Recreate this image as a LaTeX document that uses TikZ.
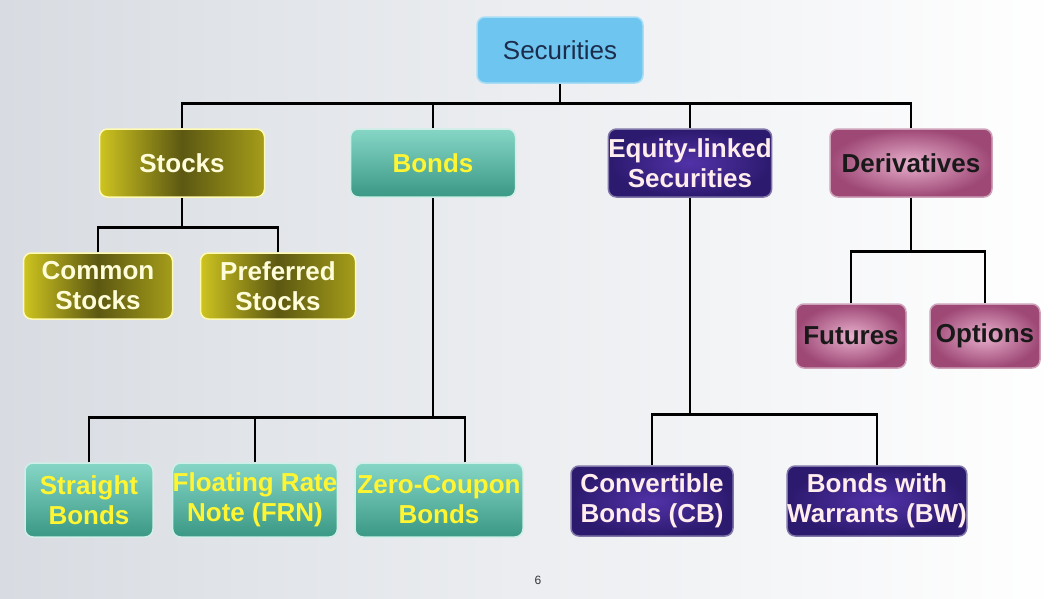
\documentclass[tikz,border=0pt]{standalone}
\usepackage{fontspec}
\setmainfont{Liberation Sans}
\definecolor{skyblue}{HTML}{6EC6F0}
\definecolor{olivedark}{HTML}{5C5812}
\definecolor{oliveyel}{HTML}{CEC420}
\definecolor{tealtop}{HTML}{86D6C6}
\definecolor{tealbot}{HTML}{3A9884}
\definecolor{purpin}{HTML}{5232A8}
\definecolor{purpout}{HTML}{2C1A6E}
\definecolor{pinkin}{HTML}{E8B0CC}
\definecolor{pinkout}{HTML}{9E4876}
\definecolor{backleft}{HTML}{D8DCE2}
\definecolor{navytext}{HTML}{1C2C4C}
\begin{document}
\begin{tikzpicture}[x=1pt,y=-1pt,
  thick,box/.style={rounded corners=8pt,line width=1.5pt,minimum height=68pt,align=center,
    inner sep=0pt,font=\fontsize{26}{30}\selectfont\bfseries},
  top node/.style={box,fill=skyblue,draw=skyblue!60!white,text=navytext,font=\fontsize{26}{30}\selectfont},
  stock node/.style={box,draw=yellow!30!white,left color=oliveyel,right color=oliveyel!80!black,middle color=olivedark,text=yellow!15!white},
  bond node/.style={box,draw=tealtop!40!white,top color=tealtop,bottom color=tealbot,text=yellow!80!white},
  equity node/.style={box,draw=purpout!60!white,inner color=purpin,outer color=purpout,text=pink!30!white},
  deriv node/.style={box,draw=pinkout!50!white,inner color=pinkin,outer color=pinkout,text=black!90},
  link/.style={line width=2.6pt,black}]

  % background
  \fill[left color=backleft,right color=white] (0,0) rectangle (1058,598);
  \useasboundingbox (0,0) rectangle (1058,598);

  \node[top node,minimum width=166pt,minimum height=66pt] (sec) at (560,50) {Securities};

  \node[stock node,minimum width=165pt] (stocks) at (182,163) {Stocks};
  \node[bond node,minimum width=165pt] (bonds) at (433,163) {Bonds};
  \node[equity node,minimum width=155pt] (equity) at (690,163) {Equity-linked\\Securities};
  \node[deriv node,minimum width=162pt] (deriv) at (911,163) {Derivatives};

  \node[stock node,minimum width=149pt,minimum height=66pt] (common) at (98,286) {Common\\Stocks};
  \node[stock node,minimum width=155pt,minimum height=66pt] (pref) at (278,286) {Preferred\\Stocks};

  \node[deriv node,minimum width=110pt,minimum height=64pt] (fut) at (851,336) {Futures};
  \node[deriv node,minimum width=110pt,minimum height=64pt] (opt) at (985,336) {Options};

  \node[bond node,minimum width=128pt,minimum height=74pt] (straight) at (89,500) {Straight\\Bonds};
  \node[bond node,minimum width=159pt,minimum height=74pt] (frn) at (255,500) {Floating Rate\\Note (FRN)};
  \node[bond node,minimum width=168pt,minimum height=74pt] (zero) at (439,500) {Zero-Coupon\\Bonds};

  \node[equity node,minimum width=162pt,minimum height=70pt] (cb) at (652,501) {Convertible\\Bonds (CB)};
  \node[equity node,minimum width=178pt,minimum height=70pt] (bw) at (877,501) {Bonds with\\Warrants (BW)};

  \node[font=\fontsize{12}{14}\selectfont,text=black!80] (page) at (538,580) {6};

  % connectors
  \foreach \child in {stocks,bonds,equity,deriv}
    \draw[link] (\child.north) -- ++(0,-25) -| (sec.south);
  \foreach \child in {common,pref}
    \draw[link] (\child.north) -- ++(0,-25) -| (stocks.south);
  \foreach \child in {fut,opt}
    \draw[link] (\child.north) -- ++(0,-52) -| (deriv.south);
  \draw[link] (straight.north) -- ++(0,-45) -| (bonds.south);
  \draw[link] (frn.north) -- ++(0,-45) -| (bonds.south);
  \draw[link] ([xshift=26pt]zero.north) -- ++(0,-45) -| (bonds.south);
  \foreach \child in {cb,bw}
    \draw[link] (\child.north) -- ++(0,-51) -| (equity.south);
\end{tikzpicture}
\end{document}
